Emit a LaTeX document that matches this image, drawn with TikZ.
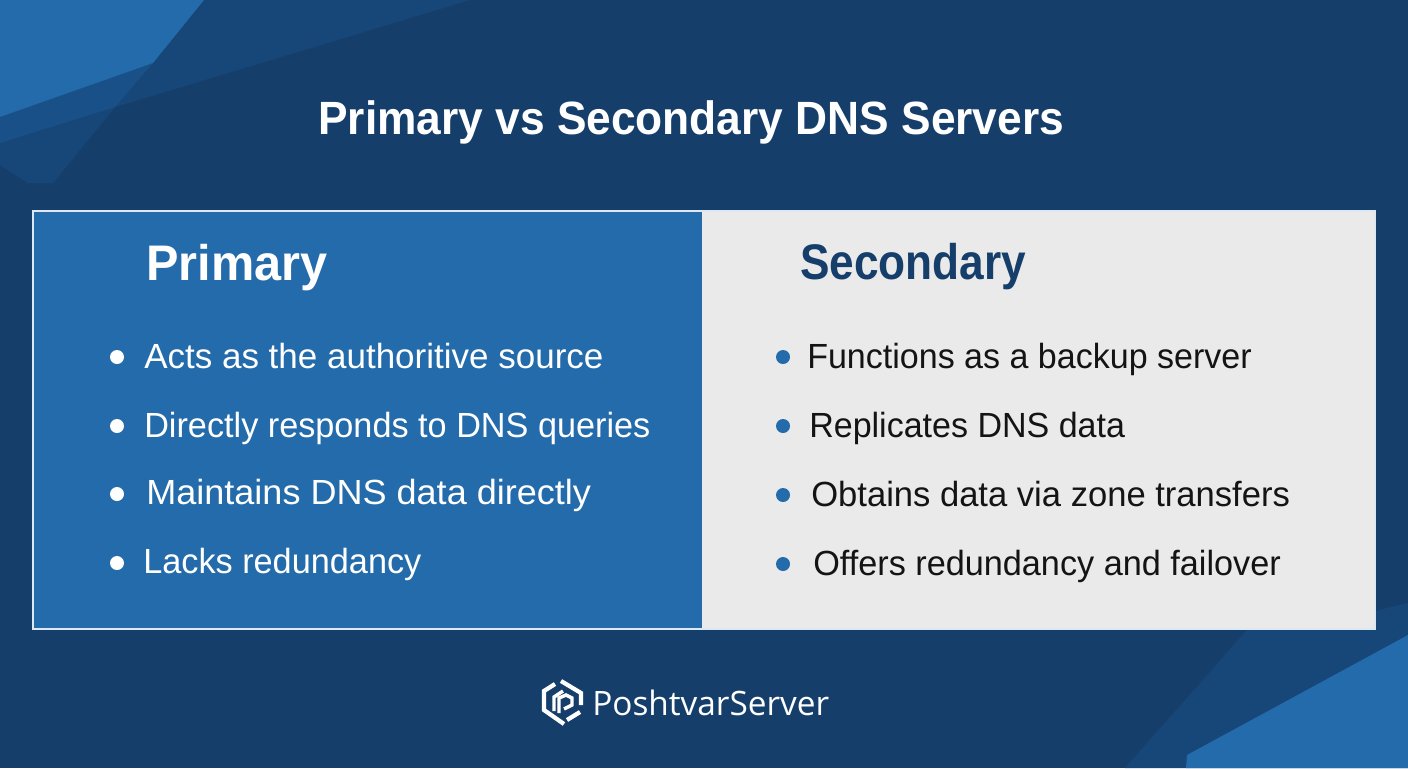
\documentclass[tikz,border=0pt]{standalone}
\usepackage{graphicx}
\usepackage{fontspec}
\setmainfont{Liberation Sans}
\newfontfamily\brandfont{Open Sans}
\usetikzlibrary{positioning}

\definecolor{basenavy}{HTML}{163E6B}
\definecolor{midnavy}{HTML}{174779}
\definecolor{bandnavy}{HTML}{195088}
\definecolor{lightblue}{HTML}{246BAB}
\definecolor{panelgrey}{HTML}{EAEAEA}
\definecolor{panelline}{HTML}{DCE8F2}

% horizontal squeeze, the Liberation widths differ from the printed ones
\newcommand{\sx}[2]{\scalebox{#1}[1]{#2}}

\begin{document}
\begin{tikzpicture}[
    x=0.75pt, y=-0.75pt,
    titletext/.style={anchor=base west, inner sep=0pt, text=white, font=\fontsize{35}{40}\selectfont\bfseries},
    headtext/.style={anchor=base west, inner sep=0pt, font=\fontsize{37.5}{42}\selectfont\bfseries},
    itemtext/.style={anchor=base west, inner sep=0pt, font=\fontsize{26.2}{30}\selectfont},
    itemdot/.style={circle, inner sep=0pt, minimum size=10.5pt},
    logoline/.style={draw=white, line width=3.2pt},
    logoinner/.style={draw=white, line width=2.6pt}
]
\useasboundingbox (0,0) rectangle (1408,768);

% Background
\fill[basenavy] (0,0) rectangle (1408,768);
\fill[midnavy] (204,0) -- (470,0) -- (115,107) -- (53,183) -- (28,183) -- (0,165) -- (0,117) -- (153,63) -- cycle;
\fill[bandnavy] (0,117) -- (153,63) -- (115,107) -- (0,143) -- cycle;
\fill[lightblue] (0,0) -- (204,0) -- (153,63) -- (0,117) -- cycle;
\fill[midnavy] (1125,768) -- (1247,630) -- (1375,630) -- (1375,611) -- (1408,603) -- (1408,768) -- cycle;
\fill[lightblue] (1187,755) -- (1408,635) -- (1408,768) -- (1186,768) -- cycle;

% Panels
\fill[lightblue] (33,211) rectangle (702,629);
\fill[panelgrey] (702,211) rectangle (1375,629);
\draw[panelline, line width=1pt] (33,211) rectangle (1375,629);

% Title
\node[titletext] (title) at (318,134) {\sx{0.949}{Primary vs Secondary DNS Servers}};

% Primary column
\node[headtext, text=white] (primary) at (146,280) {\sx{0.973}{Primary}};
\node[itemdot, fill=white] (pdot1) at (117,357) {};
\node[itemdot, fill=white] (pdot2) at (117,426) {};
\node[itemdot, fill=white] (pdot3) at (117,494) {};
\node[itemdot, fill=white] (pdot4) at (117,563) {};
\node[itemtext, text=white] (pitem1) at (144,368) {\sx{1.002}{Acts as the authoritive source}};
\node[itemtext, text=white] (pitem2) at (144,437) {\sx{0.98}{Directly responds to DNS queries}};
\node[itemtext, text=white] (pitem3) at (146,504) {\sx{1.032}{Maintains DNS data directly}};
\node[itemtext, text=white] (pitem4) at (143,573) {\sx{0.981}{Lacks redundancy}};

% Secondary column
\node[headtext, text=basenavy] (secondary) at (800,279) {\sx{0.884}{Secondary}};
\node[itemdot, fill=lightblue] (sdot1) at (783,357) {};
\node[itemdot, fill=lightblue] (sdot2) at (783,426) {};
\node[itemdot, fill=lightblue] (sdot3) at (783,495) {};
\node[itemdot, fill=lightblue] (sdot4) at (783,564) {};
\node[itemtext, text=black!92] (sitem1) at (807,368) {\sx{0.974}{Functions as a backup server}};
\node[itemtext, text=black!92] (sitem2) at (809,437) {\sx{0.974}{Replicates DNS data}};
\node[itemtext, text=black!92] (sitem3) at (811,506) {\sx{0.99}{Obtains data via zone transfers}};
\node[itemtext, text=black!92] (sitem4) at (813,575) {\sx{0.98}{Offers redundancy and failover}};

% Logo
\draw[logoline] (555,684) -- (544,691) -- (544,710) -- (564,724);
\draw[logoline] (561,681) -- (581,693) -- (581,705);
\draw[logoline] (567,720) -- (580,712);
\draw[logoinner] (554,711) -- (554,697) -- (563,691);
\draw[logoinner] (559,713) -- (559,698) -- (566,695) -- (572,698) -- (572,705) -- (564,709);
\node[anchor=base west, inner sep=0pt, text=white, font=\fontsize{25.2}{30}\brandfont\selectfont] (brand) at (592,715) {\sx{0.993}{PoshtvarServer}};
\end{tikzpicture}
\end{document}
